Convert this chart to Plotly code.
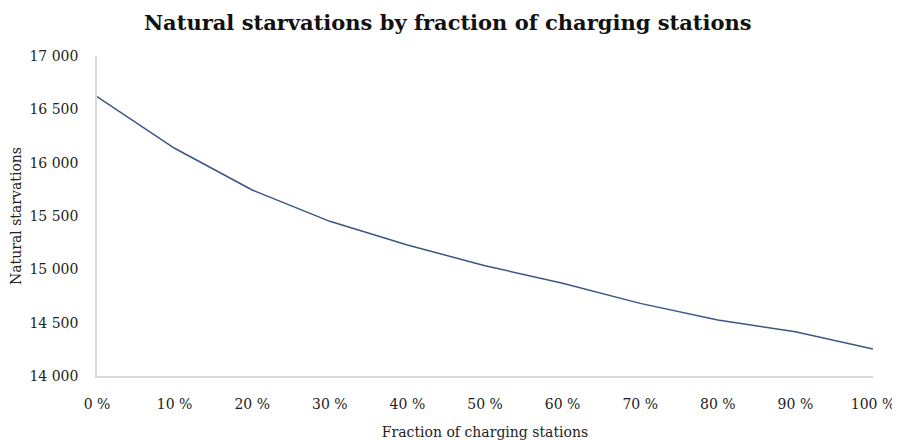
import plotly.graph_objects as go

fractions = [0, 10, 20, 30, 40, 50, 60, 70, 80, 90, 100]
x_labels = ["0 %", "10 %", "20 %", "30 %", "40 %", "50 %", "60 %", "70 %", "80 %", "90 %", "100 %"]
starvations = [16620, 16135, 15744, 15450, 15228, 15034, 14870, 14681, 14525, 14415, 14253]
y_ticks = [14000, 14500, 15000, 15500, 16000, 16500, 17000]

FONT = "DejaVu Serif"

fig = go.Figure()
fig.add_trace(go.Scatter(
    x=fractions, y=starvations, mode="lines",
    line=dict(color="#3A5784", width=1.5),
    hoverinfo="skip", showlegend=False,
))

# page has an 8px body margin, so the figure is sized/offset to compensate
fig.update_layout(
    width=892, height=432,
    margin=dict(l=89, r=27, t=48, b=64, autoexpand=False),
    paper_bgcolor="white", plot_bgcolor="white",
    separators=". ",
    font=dict(family=FONT, color="#222222", size=14),
    title=dict(
        text="<b>Natural starvations by fraction of charging stations</b>",
        x=0.493, xanchor="center", xref="container", y=0.966, yanchor="middle",
        font=dict(family=FONT, size=21, color="#111111"),
    ),
    xaxis=dict(
        range=[0, 100], tickmode="array", tickvals=fractions, ticktext=x_labels,
        showgrid=False, zeroline=False, showline=True, linecolor="#d9d9d9", linewidth=1.5,
        ticks="", ticklabelstandoff=14, automargin=False,
        title=dict(text="Fraction of charging stations", font=dict(size=14), standoff=24),
    ),
    yaxis=dict(
        range=[14000, 17000], tickmode="array", tickvals=y_ticks, tickformat=",d",
        showgrid=False, zeroline=False, showline=True, linecolor="#d9d9d9", linewidth=1.5,
        ticks="", ticklabelstandoff=14, automargin=False,
        title=dict(text="Natural starvations", font=dict(size=14), standoff=11),
    ),
)

fig.write_html("out.html")
